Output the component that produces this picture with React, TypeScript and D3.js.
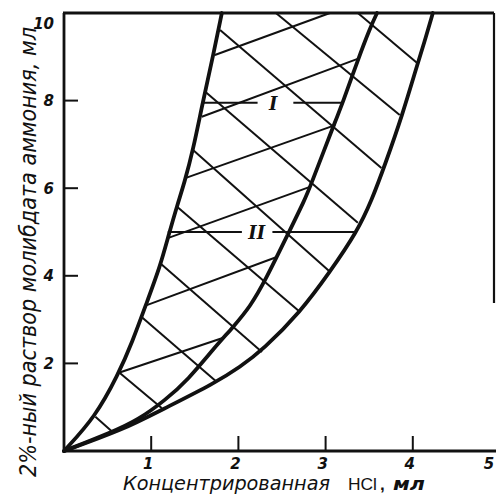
import React from "react";
import * as d3 from "d3";

// Boundary curves, data units (x: HCl ml, y: molybdate ml)
const curveLeft: [number, number][] = [
  [0, 0], [0.36, 0.78], [0.62, 1.74], [0.78, 2.47], [0.96, 3.45], [1.1, 4.2],
  [1.2, 4.93], [1.3, 5.62], [1.38, 6.12], [1.48, 6.87], [1.59, 7.95], [1.7, 8.93], [1.81, 10],
];
const curveMiddle: [number, number][] = [
  [0, 0], [0.55, 0.43], [0.85, 0.71], [1.16, 1.16], [1.42, 1.62], [1.73, 2.37],
  [1.94, 2.83], [2.14, 3.31], [2.31, 3.9], [2.58, 5.0], [2.76, 5.73], [2.83, 6.07],
  [3.08, 7.37], [3.2, 7.97], [3.37, 8.93], [3.51, 9.66], [3.59, 10],
];
const curveRight: [number, number][] = [
  [0, 0], [0.67, 0.48], [1.12, 0.94], [1.73, 1.55], [2.02, 1.92], [2.28, 2.31],
  [2.71, 3.17], [3.05, 4.09], [3.36, 5.0], [3.53, 5.73], [3.68, 6.53], [3.88, 7.67],
  [4.05, 8.81], [4.14, 9.38], [4.23, 10],
];

// Hatching falling to the right (crosses regions I and II): [x1, y1, x2, y2]
const hatchFalling: [number, number, number, number][] = [
  [0.36, 0.78, 0.56, 0.43],
  [0.64, 1.78, 1.12, 0.98],
  [0.89, 3.06, 1.75, 1.58],
  [1.1, 4.29, 2.27, 2.26],
  [1.3, 5.57, 2.71, 3.17],
  [1.48, 6.87, 3.05, 4.09],
  [1.62, 8.2, 3.37, 5.21],
  [1.79, 9.61, 3.64, 6.46],
  [2.43, 10, 3.85, 7.67],
  [3.37, 10, 4.05, 8.86],
];
// Hatching rising to the right (region I only)
const hatchRising: [number, number, number, number][] = [
  [0.62, 1.78, 1.82, 2.58],
  [0.95, 3.33, 2.44, 4.43],
  [1.19, 4.86, 2.82, 6.03],
  [1.39, 6.23, 3.11, 7.44],
  [1.58, 7.63, 3.39, 8.97],
  [1.73, 9.04, 3.05, 10],
];

// Region labels: text, y level, left segment [x1,x2], text x, right segment [x1,x2]
const regionNames = ["I", "II"];
const regionY = [7.95, 5.0];
const regionLeftSeg: [number, number][] = [[1.59, 2.22], [1.19, 2.04]];
const regionTextX = [2.4, 2.21];
const regionRightSeg: [number, number][] = [[2.63, 3.2], [2.39, 3.36]];

const xTicks = [1, 2, 3, 4, 5];
const xTickMarks = [1, 2, 3, 4];
const yTicks = [2, 4, 6, 8, 10];
const yTickMarks = [2, 4, 6, 8];

const yTitle = "2%-ный раствор молибдата аммония, мл";
const xTitleMain = "Концентрированная";
const xTitleChem = "HCl";
const xTitleUnit = "мл";

const W = 496;
const H = 499;

export default function App() {
  const x = d3.scaleLinear().domain([0, 5]).range([64, 500]);
  const y = d3.scaleLinear().domain([0, 10]).range([451, 13]);
  const line = d3
    .line<[number, number]>()
    .x((d) => x(d[0]))
    .y((d) => y(d[1]))
    .curve(d3.curveBasis);

  const ink = "#111";
  const tickFont = "'DejaVu Sans', sans-serif";

  return (
    <svg
      width={W}
      height={H}
      style={{ position: "absolute", left: 0, top: 0, background: "#fff" }}
    >
      <rect x={0} y={0} width={W} height={H} fill="#fff" />
      {/* hatching */}
      {hatchFalling.map((h, i) => (
        <line key={"f" + i} x1={x(h[0])} y1={y(h[1])} x2={x(h[2])} y2={y(h[3])}
          stroke={ink} strokeWidth={2} />
      ))}
      {hatchRising.map((h, i) => (
        <line key={"r" + i} x1={x(h[0])} y1={y(h[1])} x2={x(h[2])} y2={y(h[3])}
          stroke={ink} strokeWidth={2} />
      ))}
      {/* region labels */}
      {regionNames.map((n, i) => (
        <g key={"lab" + i}>
          <line x1={x(regionLeftSeg[i][0])} x2={x(regionLeftSeg[i][1])}
            y1={y(regionY[i])} y2={y(regionY[i])} stroke={ink} strokeWidth={2} />
          <line x1={x(regionRightSeg[i][0])} x2={x(regionRightSeg[i][1])}
            y1={y(regionY[i])} y2={y(regionY[i])} stroke={ink} strokeWidth={2} />
          <text x={x(regionTextX[i])} y={y(regionY[i]) + 7} textAnchor="middle"
            fontFamily="'DejaVu Serif', serif" fontStyle="italic" fontWeight="bold"
            fontSize={18} fill={ink}>{n}</text>
        </g>
      ))}
      {/* boundary curves */}
      {[curveLeft, curveMiddle, curveRight].map((c, i) => (
        <path key={"c" + i} d={line(c) || ""} fill="none" stroke={ink}
          strokeWidth={3.8} strokeLinecap="round" />
      ))}
      {/* frame */}
      <line x1={x(0)} x2={x(0)} y1={y(10)} y2={y(0)} stroke={ink} strokeWidth={2.8} />
      <line x1={x(0) - 1} x2={W} y1={y(0)} y2={y(0)} stroke={ink} strokeWidth={2.8} />
      <line x1={x(0) - 1} x2={494} y1={y(10)} y2={y(10)} stroke={ink} strokeWidth={2.8} />
      <line x1={494} x2={494} y1={y(10)} y2={303} stroke={ink} strokeWidth={2.2} />
      {/* ticks */}
      {yTickMarks.map((t) => (
        <line key={"yt" + t} x1={x(0)} x2={x(0) + 14} y1={y(t)} y2={y(t)}
          stroke={ink} strokeWidth={2} />
      ))}
      {xTickMarks.map((t) => (
        <line key={"xt" + t} x1={x(t)} x2={x(t)} y1={y(0)} y2={y(0) - 15}
          stroke={ink} strokeWidth={2} />
      ))}
      {yTicks.map((t) => (
        <text key={"yl" + t} x={54} y={y(t) + (t === 10 ? 11 : 0)} dy="0.36em"
          textAnchor="end" fontFamily={tickFont} fontStyle="italic" fontWeight="bold"
          fontSize={15} fill={ink}>{t}</text>
      ))}
      {xTicks.map((t) => (
        <text key={"xl" + t} x={Math.min(x(t) - 3, 489)} y={469} textAnchor="middle"
          fontFamily={tickFont} fontStyle="italic" fontWeight="bold"
          fontSize={15} fill={ink}>{t}</text>
      ))}
      {/* axis titles */}
      <text transform="translate(36,252) rotate(-90)" textAnchor="middle"
        fontFamily="'DejaVu Sans Condensed', 'DejaVu Sans', sans-serif" fontStyle="italic"
        fontSize={23} fill={ink} textLength={450} lengthAdjust="spacingAndGlyphs">
        {yTitle}
      </text>
      <text x={123} y={490} fontFamily="'DejaVu Sans Condensed', 'DejaVu Sans', sans-serif"
        fontStyle="italic" fontSize={19} fill={ink} textLength={207}
        lengthAdjust="spacingAndGlyphs">{xTitleMain}</text>
      <text x={348} y={490} fontFamily="'Liberation Sans', sans-serif" fontSize={17}
        fill={ink} textLength={29} lengthAdjust="spacingAndGlyphs">{xTitleChem}</text>
      <text x={380} y={490} fontFamily="'Liberation Sans', sans-serif" fontWeight="bold"
        fontSize={17} fill={ink}>,</text>
      <text x={393} y={490} fontFamily="'DejaVu Sans', sans-serif" fontStyle="italic"
        fontWeight="bold" fontSize={17} fill={ink} textLength={32}
        lengthAdjust="spacingAndGlyphs">{xTitleUnit}</text>
    </svg>
  );
}
